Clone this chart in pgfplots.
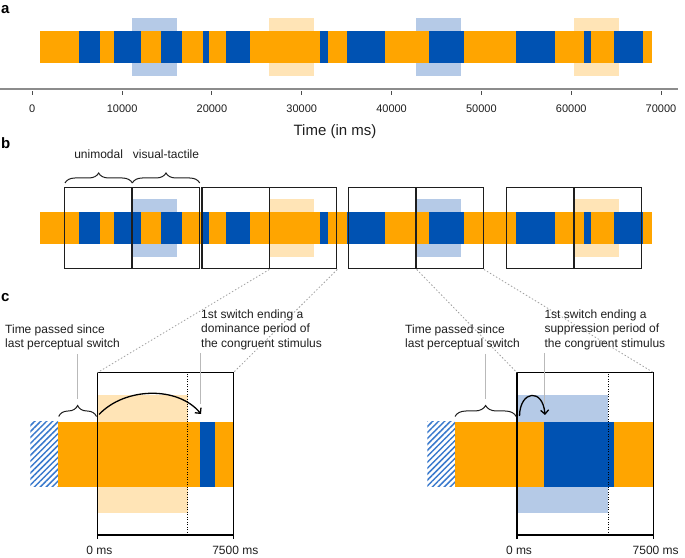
\documentclass[border=0pt]{standalone}
\usepackage{fontspec}
\setmainfont{Liberation Sans}
\usepackage{pgfplots}
\pgfplotsset{compat=1.18}
\usetikzlibrary{patterns.meta,decorations.pathreplacing,arrows.meta}

\definecolor{cOr}{RGB}{255,165,0}
\definecolor{cBl}{RGB}{0,82,178}
\definecolor{cLB}{RGB}{181,202,231}
\definecolor{cLO}{RGB}{255,228,182}
\definecolor{cHatch}{RGB}{58,122,205}
\definecolor{cTxt}{RGB}{30,30,30}

% one segment of a timeline: x from #1 to #2 (ms), y from #3 to #4, colour #5
\newcommand{\seg}[5]{\addplot[draw=none,fill=#5,forget plot] coordinates {(#1,#3) (#2,#3) (#2,#4) (#1,#4)} -- cycle;}
% outline box of an analysis window: start, onset, end
\newcommand{\win}[5]{%
  \addplot[draw=cTxt,line width=1.2pt,forget plot] coordinates {(#1,#4) (#3,#4) (#3,#5) (#1,#5)} -- cycle;
  \addplot[draw=cTxt,line width=1.2pt,forget plot] coordinates {(#2,#4) (#2,#5)};}
% perceptual timeline (orange = congruent dominant, blue = incongruent dominant)
\newcommand{\timeline}[2]{%
  \seg{900}{69010}{#1}{#2}{cOr}
  \seg{5200}{7540}{#1}{#2}{cBl}
  \seg{9100}{12100}{#1}{#2}{cBl}
  \seg{14330}{16700}{#1}{#2}{cBl}
  \seg{19000}{19700}{#1}{#2}{cBl}
  \seg{21570}{24240}{#1}{#2}{cBl}
  \seg{32070}{32900}{#1}{#2}{cBl}
  \seg{35080}{39280}{#1}{#2}{cBl}
  \seg{44210}{48070}{#1}{#2}{cBl}
  \seg{53860}{58170}{#1}{#2}{cBl}
  \seg{61400}{62220}{#1}{#2}{cBl}
  \seg{64740}{67970}{#1}{#2}{cBl}}
% stimulation periods (visual-tactile)
\newcommand{\stims}[2]{%
  \seg{11100}{16080}{#1}{#2}{cLB}
  \seg{26400}{31350}{#1}{#2}{cLO}
  \seg{42730}{47700}{#1}{#2}{cLB}
  \seg{60320}{65300}{#1}{#2}{cLO}}

\begin{document}
\begin{tikzpicture}
\path[use as bounding box] (0,0) rectangle (685pt,557pt);

% ---------------- panel a
\begin{axis}[
  at={(0pt,468pt)}, anchor=south west, scale only axis,
  width=678pt, height=79pt,
  xmin=-3596, xmax=71890, ymin=468, ymax=547,
  clip=false,
  axis x line*=bottom, axis y line=none,
  axis line style={draw=black!45, line width=1.3pt},
  xtick={0,10000,20000,30000,40000,50000,60000,70000},
  scaled x ticks=false,
  /pgf/number format/1000 sep={},
  /pgf/number format/assume math mode=true,
  tick align=outside, major tick length=3.5pt,
  xtick style={draw=black!70, line width=1pt, yshift=-2.5pt},
  xticklabel style={font=\fontsize{11}{13}\selectfont, text=cTxt, yshift=-9pt},
]
\stims{481}{539}
\timeline{494}{526}
\end{axis}

% ---------------- panel b
\begin{axis}[
  at={(0pt,280pt)}, anchor=south west, scale only axis,
  width=678pt, height=120pt,
  xmin=-3596, xmax=71890, ymin=280, ymax=400,
  clip=false, hide axis,
]
\stims{300.3}{358}
\timeline{313}{345}
\win{3600}{11100}{18600}{288.3}{369.7}
\win{18900}{26400}{33900}{288.3}{369.7}
\win{35230}{42730}{50230}{288.3}{369.7}
\win{52820}{60320}{67820}{288.3}{369.7}
\end{axis}

% ---------------- panel c, left
\begin{axis}[
  at={(97.3pt,22pt)}, anchor=south west, scale only axis,
  width=136pt, height=162.3pt,
  xmin=0, xmax=7500, ymin=22, ymax=184.3,
  clip=false, axis on top,
  axis line style={draw=black, line width=1.2pt},
  xtick={0,7500}, xticklabels={0 ms,7500 ms}, ytick=\empty,
  xtick pos=left, tick align=outside, major tick length=4pt,
  xtick style={draw=black, line width=1.2pt},
  xticklabel style={font=\fontsize{12}{14}\selectfont, text=cTxt, yshift=-3.5pt, xshift=2pt},
]
\seg{0}{5000}{44.5}{162}{cLO}
\addplot[draw=none, pattern={Lines[angle=45,distance=4.2pt,line width=1.5pt]}, pattern color=cHatch, forget plot]
  coordinates {(-3695,70.3) (-2160,70.3) (-2160,135.3) (-3695,135.3)} -- cycle;
\seg{-2160}{7500}{70.3}{135.3}{cOr}
\seg{5670}{6500}{70.3}{135.3}{cBl}
\addplot[black, dash pattern=on 1pt off 1.5pt, line width=1pt, forget plot] coordinates {(5000,22) (5000,184.3)};
\end{axis}

% ---------------- panel c, right
\begin{axis}[
  at={(517pt,22pt)}, anchor=south west, scale only axis,
  width=136.7pt, height=162.3pt,
  xmin=0, xmax=7500, ymin=22, ymax=184.3,
  clip=false, axis on top,
  axis line style={draw=black, line width=1.2pt},
  xtick={0,7500}, xticklabels={0 ms,7500 ms}, ytick=\empty,
  xtick pos=left, tick align=outside, major tick length=4pt,
  xtick style={draw=black, line width=1.2pt},
  xticklabel style={font=\fontsize{12}{14}\selectfont, text=cTxt, yshift=-3.5pt, xshift=2pt},
]
\seg{0}{4980}{44.5}{162}{cLB}
\addplot[draw=none, pattern={Lines[angle=45,distance=4.2pt,line width=1.5pt]}, pattern color=cHatch, forget plot]
  coordinates {(-4921,70.3) (-3402,70.3) (-3402,135.3) (-4921,135.3)} -- cycle;
\seg{-3402}{7500}{70.3}{135.3}{cOr}
\seg{1481}{5340}{70.3}{135.3}{cBl}
\addplot[black, dash pattern=on 1pt off 1.5pt, line width=1pt, forget plot] coordinates {(5000,22) (5000,184.3)};
\end{axis}

% ---------------- annotations (pixel coordinates, y downwards)
\begin{scope}[x=1pt, y=-1pt, yshift=557pt]
\tikzset{lbl/.style={font=\fontsize{12}{14}\selectfont, text=cTxt, inner sep=0pt, anchor=base west}}
% panel letters
\node[font=\fontsize{15}{17}\selectfont\bfseries, inner sep=0pt, anchor=base west] at (1,13.5) {a};
\node[font=\fontsize{15}{17}\selectfont\bfseries, inner sep=0pt, anchor=base west] at (1,148.5) {b};
\node[font=\fontsize{15}{17}\selectfont\bfseries, inner sep=0pt, anchor=base west] at (1,302) {c};
% axis title
\node[font=\fontsize{15}{17}\selectfont, text=cTxt, inner sep=0pt, anchor=base] at (335,136) {Time (in ms)};
% panel b braces
\draw[decorate, decoration={brace, amplitude=10pt}, line width=1pt, cTxt] (65,183) -- (132.3,183);
\draw[decorate, decoration={brace, amplitude=10pt}, line width=1pt, cTxt] (132.3,183) -- (199.7,183);
\node[lbl, anchor=base] at (98.6,159) {unimodal};
\node[lbl, anchor=base] at (166,159) {visual-tactile};
% zoom connectors
\draw[gray!75, line width=0.8pt, dash pattern=on 1.5pt off 2pt] (269.3,269.5) -- (97.3,372.7);
\draw[gray!75, line width=0.8pt, dash pattern=on 1.5pt off 2pt] (337.3,269.5) -- (233.3,372.7);
\draw[gray!75, line width=0.8pt, dash pattern=on 1.5pt off 2pt] (416.7,269.5) -- (517,372.7);
\draw[gray!75, line width=0.8pt, dash pattern=on 1.5pt off 2pt] (484,269.5) -- (653.7,372.7);
% panel c braces and pointers
\draw[decorate, decoration={brace, amplitude=11pt}, line width=1pt, cTxt] (58.7,416.5) -- (96.5,416.5);
\draw[decorate, decoration={brace, amplitude=11pt}, line width=1pt, cTxt] (455,416.5) -- (516.2,416.5);
\draw[gray!55, line width=0.8pt] (76.9,354) -- (76.9,399);
\draw[gray!55, line width=0.8pt] (200.7,353) -- (200.7,404);
\draw[gray!55, line width=0.8pt] (485.6,354) -- (485.6,399);
\draw[gray!55, line width=0.8pt] (544,353) -- (544,404);
% arrows
\draw[line width=1.3pt, black, -{Straight Barb[length=4pt,width=8pt]}] (99,414.5) .. controls (125,387) and (178,386) .. (201,414);
\draw[line width=1.3pt, black, -{Straight Barb[length=4pt,width=8pt]}] (519.5,416) .. controls (520,390) and (543,388) .. (545,415);
% texts
\node[lbl] at (5,334) {Time passed since};
\node[lbl] at (5,347.5) {last perceptual switch};
\node[lbl] at (201,318.5) {1st switch ending a};
\node[lbl] at (201,333) {dominance period of};
\node[lbl] at (201,347.5) {the congruent stimulus};
\node[lbl] at (405,334) {Time passed since};
\node[lbl] at (405,347.5) {last perceptual switch};
\node[lbl] at (544.3,318.5) {1st switch ending a};
\node[lbl] at (544.3,333) {suppression period of};
\node[lbl] at (544.3,347.5) {the congruent stimulus};
\end{scope}
\end{tikzpicture}
\end{document}
